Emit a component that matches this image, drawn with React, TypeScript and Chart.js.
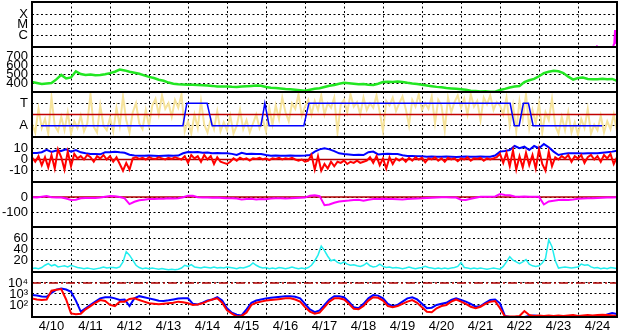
import React, { useEffect, useRef } from 'react';
import { Chart, registerables } from 'chart.js';

Chart.register(...registerables);

// ---------------- axis labels ----------------
const dayLabels = ['4/10', '4/11', '4/12', '4/13', '4/14', '4/15', '4/16', '4/17', '4/18', '4/19', '4/20', '4/21', '4/22', '4/23', '4/24'];
const dayLabelPositions = [0.5, 1.5, 2.5, 3.5, 4.5, 5.5, 6.5, 7.5, 8.5, 9.5, 10.5, 11.5, 12.5, 13.5, 14.5];

const xrayTicks = [1e-6, 1e-5, 1e-4];
const xrayTickLabels = ['C', 'M', 'X'];
const speedTicks = [400, 500, 600, 700];
const speedTickLabels = ['400', '500', '600', '700'];
const sectorTicks = [1, 3];
const sectorTickLabels = ['A', 'T'];
const imfTicks = [-10, 0, 10];
const imfTickLabels = ['-10', '0', '10'];
const dstTicks = [-100, 0];
const dstTickLabels = ['-100', '0'];
const pressureTicks = [20, 40, 60];
const pressureTickLabels = ['20', '40', '60'];
const fluxTicks = [100, 1000, 10000];
const fluxTickLabels = ['10²', '10³', '10⁴'];

// ---------------- data (x in days from 4/10 00:00) ----------------
const STEP3 = 0.125; // 3-hour samples
const STEP2 = 1 / 12; // 2-hour samples

const xrayDays = [14.47, 14.5, 14.7, 14.9, 14.93, 14.95, 14.97, 15.0];
const xrayFlux = [9e-8, 9e-8, null, 9e-8, 1.5e-7, 3e-6, 2e-7, 2.5e-7];

const speedVals = [410, 400, 390, 395, 400, 440, 490, 450, 462, 530,
  500, 490, 495, 485, 488, 498, 510, 525, 550, 540,
  525, 515, 502, 485, 468, 455, 437, 425, 405, 392,
  385, 383, 380, 381, 378, 376, 372, 368, 362, 360,
  362, 358, 356, 362, 365, 368, 372, 370, 355, 348,
  345, 340, 333, 330, 325, 320, 315, 325, 335, 341,
  355, 370, 378, 392, 403, 398, 392, 385, 388, 380,
  378, 392, 410, 415, 410, 416, 412, 402, 395, 390,
  380, 372, 365, 357, 352, 345, 340, 335, 330, 325,
  315, 311, 305, 308, 302, 304, 322, 335, 350, 360,
  367, 410, 430, 445, 475, 510, 525, 537, 530, 510,
  470, 438, 455, 460, 445, 441, 443, 446, 442, 445,
  425];

const imfDirVals = [1.2, 0.4, 2.5, 0.8, 1.6, 0.3, 3.5, 1.0, 0.5, 1.8, 0.6, 2.2, 0.3, 1.4,
  0.8, 1.9, 0.5, 1.2, 3.8, 0.9, 0.4, 2.8, 1.0, 0.6, 1.7, 0.5,
  2.6, 1.0, 3.6, 1.5, 0.4, 2.2, 3.0, 1.2, 0.7, 2.4, 1.0,
  2.8, 3.4, 2.0, 3.7, 2.5, 3.0, 1.8, 3.3, 2.6, 3.8,
  0.5, 1.4, 0.3, 2.0, 0.8, 3.2, 1.1, 0.4, 1.6, 0.7, 2.3, 0.5,
  1.3, 0.6, 1.9, 0.3, 1.0, 2.4, 0.7, 1.5, 0.4, 1.2, 2.0, 0.8, 1.6, 0.5, 2.6, 1.1,
  2.8, 1.6, 3.5, 2.2, 1.4, 3.0, 2.5, 3.8, 1.9, 2.7, 3.3, 2.0,
  3.2, 2.4, 3.7, 2.0, 3.0, 2.6, 3.5, 0.4, 2.9, 3.3, 2.2, 3.8, 2.7, 3.1, 2.0, 3.5, 2.4,
  3.0, 2.6, 3.7, 2.2, 0.5, 3.2, 2.8, 3.5, 2.3, 3.0, 3.6, 2.5, 1.0, 3.3, 2.7, 3.8, 2.4,
  3.0, 2.5, 3.6, 1.2, 3.3, 2.8, 0.6, 3.5, 2.2, 3.1, 3.7, 2.6, 3.4, 2.0, 3.8, 2.7, 3.2,
  1.5, 3.5, 2.9, 3.7, 2.4, 3.1, 2.8,
  2.0, 3.5, 1.0, 2.8, 0.5, 3.2, 1.6, 3.8, 0.8, 2.4, 1.2, 3.0, 0.4, 2.2, 1.5, 3.4,
  1.0, 0.3, 1.8, 0.6, 2.2, 0.4, 1.3, 0.2, 1.6, 0.8, 2.5, 0.3, 1.1, 0.6, 1.9, 0.4, 1.4, 0.7, 2.0, 0.5];

const sectorDays = [0.23, 3.87, 3.97, 4.49, 4.62, 5.87, 5.97, 6.08, 6.97, 7.1, 12.26, 12.37, 12.49, 12.6, 12.73, 12.85, 14.62];
const sectorVals = [1, 1, 3, 3, 1, 1, 3, 1, 1, 3, 3, 1, 1, 3, 3, 1, 1];

const refDays = [0, 15];
const sectorBoundary = [2, 2];
const imfZero = [0, 0];
const dstZero = [0, 0];
const fluxThreshold = [10000, 10000];

const btVals = [5.8, 5.8, 6.5, 8.5, 6.7, 8.0, 7.6, 9.0, 7.0, 8.4,
  6.4, 5.5, 4.9, 4.8, 4.6, 6.4, 6.5, 6.9, 6.4, 6.0,
  4.2, 3.5, 3.4, 3.3, 3.5, 3.4, 3.2, 3.4, 3.5, 3.3,
  3.5, 5.5, 6.7, 6.5, 6.7, 6.0, 6.2, 5.5, 5.8, 5.5,
  5.6, 5.0, 4.0, 6.0, 4.9, 5.0, 4.8, 4.9, 4.0, 3.4,
  3.5, 3.3, 3.4, 3.6, 3.4, 3.3, 3.5, 4.0, 7.0, 9.0,
  10.0, 9.0, 7.5, 5.5, 4.9, 4.5, 4.0, 4.2, 4.0, 6.5,
  7.0, 4.5, 4.9, 5.0, 4.8, 4.9, 3.8, 3.1, 3.2, 3.0,
  2.8, 2.5, 2.6, 2.4, 2.5, 2.7, 2.5, 2.3, 2.5, 2.6,
  2.4, 2.5, 2.7, 2.5, 2.4, 3.5, 7.0, 7.5, 8.4, 12.0,
  10.0, 11.4, 8.4, 12.0, 10.0, 13.8, 10.8, 7.0, 4.0, 5.0,
  5.5, 5.6, 5.5, 5.4, 5.5, 5.6, 5.5, 6.0, 6.5, 7.0,
  7.8];

const bzVals = [2, -2, 3, -5, 2, -7, 4, -8, 9, 2,
  -9, 7, -6, 5, 1, 3, 0, 4, 2, -2,
  3, 1, 4, 0, 3, -2, 2, -4, -10, -3,
  -9, 1, 2, 0.5, 1.5, 0, 2, 1, 0.5, 2,
  1, 0, 1.5, 0.5, 2, 1, 0, 3, -3, 4,
  1, 3, -2, 4, 0, 3, -4, 2, -2, -3,
  -4, -2, 1, -1, 1.5, 0, 1, -1, 1, 0.5,
  1.5, 0, 1, -0.5, 1, 0.5, 1.5, 0, 1, 0.5,
  1.5, 0, -1, 0, -2, -1, 4, -9, 3, -10,
  -4, -8, -2, -6, -2, -3, -1, -4, -2, -3,
  -1, -3, -2, -1, 2, -3, 3, -5, 1, -8,
  2, -4, 1, -1, 1, -2, 1.5, -1, 2, 0,
  1.5, -2.5, 1, 0, 2, -1, 1, -2, 1.5, 0,
  1, -1.5, 1, 0, 2, -1, 1, 0.5, 1.5, -1,
  1, 0, 1, 2, 5, -3, 6, -6, 8, -9,
  3, -7, 6, -5, 4, -8, 9, -4, -10, 7,
  -6, 2, 0, 3, 1, 4, -2, 3, 1, 4,
  -3, 2, 4, 0, 3, -2, 4, 1, 5, -4,
  2];

const dstVals = [-2, -3, 2, 7, -2, -4, -3, -10, -20, -18,
  -8, -7, -6, -7, -4, 2, 7, 5, 0, -9,
  -47, -32, -22, -18, -14, -13, -12, -11, -9, -10,
  -8, -2, 9, 8, -2, -4, -3, -5, -4, -6,
  -8, -9, -10, -16, -14, -12, -16, -13, -15, -10,
  -9, -8, -10, -9, -7, -5, -4, 8, 11, 6,
  -55, -50, -38, -30, -27, -24, -20, -19, -25, -18,
  -14, -13, -12, -13, -14, -15, -16, -14, -12, -10,
  -9, -7, -5, -3, -2, -2, -3, -4, -18, -20,
  -12, -5, 2, 1, 2, 4, 20, 13, 12, 3,
  2, 3, 1, 2, 1, -50, -30, -25, -20, -18,
  -20, -17, -12, -10, -9, -8, -6, -5, -4, -3,
  -2];

const pressureVals = [6, 7, 6, 8, 12, 15, 11, 13, 9, 10,
  11, 9, 12, 10, 8, 7, 6, 7, 6, 5,
  6, 7, 9, 7, 8, 8, 7, 9, 18, 36,
  30, 21, 12, 8, 6, 7, 6, 7, 6, 5,
  6, 5, 4, 5, 4, 5, 7, 12, 10, 13,
  9, 8, 7, 9, 8, 7, 9, 7, 8, 7,
  9, 8, 7, 6, 8, 7, 9, 11, 16, 12,
  9, 7, 8, 6, 7, 6, 8, 7, 6, 7,
  9, 7, 6, 7, 6, 8, 12, 20, 30, 46,
  38, 28, 20, 22, 17, 15, 18, 14, 12, 13,
  11, 10, 12, 16, 11, 9, 10, 14, 10, 8,
  9, 7, 8, 7, 6, 7, 9, 7, 6, 7,
  8, 10, 8, 7, 6, 7, 6, 7, 6, 7,
  8, 10, 17, 8, 7, 6, 7, 6, 7, 6,
  5, 6, 7, 6, 5, 10, 18, 27, 21, 18,
  15, 18, 22, 14, 11, 10, 11, 16, 24, 57,
  45, 20, 7, 8, 9, 8, 7, 8, 9, 14,
  12, 13, 9, 7, 8, 6, 7, 6, 8, 7,
  6];

const electronBlue = [794, 708, 603, 562, 1259, 2512, 3162, 2512, 1600, 250,
  25, 50, 100, 200, 398, 501, 501, 398, 282, 316,
  79, 398, 631, 501, 398, 316, 240, 229, 263, 316,
  380, 398, 398, 126, 112, 158, 251, 316, 501, 251,
  50, 20, 13, 11, 40, 158, 251, 316, 398, 447,
  501, 562, 631, 631, 562, 398, 126, 40, 22, 32,
  100, 316, 631, 631, 501, 200, 63, 50, 126, 398,
  794, 708, 398, 126, 79, 100, 200, 398, 501, 316,
  126, 50, 56, 100, 126, 158, 282, 398, 282, 200,
  126, 69, 79, 158, 282, 316, 141, 10, 8, 8,
  8, 8, 10, 11, 10, 9, 8, 8, 8, 8,
  8, 8, 8, 8, 8, 8, 8, 9, 14, 18,
  15];

const electronRed = [398, 316, 282, 316, 2000, 2400, 2818, 316, 17, 14,
  16, 40, 79, 158, 282, 229, 100, 79, 200, 200,
  355, 398, 282, 200, 141, 126, 115, 126, 141, 158,
  200, 178, 141, 100, 112, 141, 224, 316, 398, 158,
  32, 16, 9, 10, 20, 100, 158, 200, 251, 282,
  316, 355, 398, 398, 316, 200, 63, 25, 16, 20,
  63, 200, 398, 398, 316, 126, 45, 40, 79, 251,
  501, 447, 251, 79, 63, 79, 126, 200, 282, 158,
  63, 24, 22, 50, 79, 100, 200, 316, 200, 126,
  69, 50, 69, 126, 200, 224, 50, 9, 9, 9,
  10, 28, 12, 10, 11, 10, 11, 10, 11, 10,
  11, 12, 10, 11, 12, 11, 12, 13, 12, 11,
  10];

// ---------------- helpers ----------------
const FONT = { family: "'Liberation Sans Narrow', 'Liberation Sans', Arial, sans-serif", size: 13 };
const DOT = [2, 2.5];
const PANELS = ['yX', 'ySpd', 'ySec', 'yB', 'yDst', 'yP', 'yE'];

const even = (vals: (number | null)[], step: number) => vals.map((y, i) => ({ x: i * step, y }));
const pairs = (xs: number[], ys: (number | null)[]) => ys.map((y, i) => ({ x: xs[i], y }));

function line(data: any[], yAxisID: string, color: string, width: number, order: number, extra: any = {}) {
  return {
    type: 'line', data, yAxisID, xAxisID: 'x', borderColor: color, backgroundColor: color,
    borderWidth: width, pointRadius: 0, tension: 0, fill: false, spanGaps: false, order, ...extra,
  };
}

function panelScale(type: string, weight: number, min: number, max: number, tickValues: number[], tickLabels: string[]) {
  return {
    type, position: 'left', stack: 'panels', stackWeight: 1, weight, min, max,
    afterBuildTicks: (s: any) => { s.ticks = tickValues.map((v) => ({ value: v })); },
    afterFit: (s: any) => { s.width = 32; s.paddingTop = 0; s.paddingBottom = 0; },
    ticks: { autoSkip: false, padding: 4, color: '#000', font: FONT, callback: (_v: any, i: number) => tickLabels[i] },
    grid: { color: '#000', lineWidth: 1, drawTicks: false },
    border: { display: false, dash: DOT },
  };
}

const framePlugin = {
  id: 'panelFrame',
  afterDatasetsDraw(chart: any) {
    const { ctx, chartArea } = chart;
    ctx.save();
    ctx.strokeStyle = '#000';
    ctx.lineWidth = 2;
    PANELS.slice(0, -1).forEach((id) => {
      const s = chart.scales[id];
      ctx.beginPath();
      ctx.moveTo(chartArea.left, s.bottom);
      ctx.lineTo(chartArea.right, s.bottom);
      ctx.stroke();
    });
    ctx.strokeRect(chartArea.left, chartArea.top, chartArea.right - chartArea.left, chartArea.bottom - chartArea.top);
    ctx.restore();
  },
};

export default function App() {
  const ref = useRef<HTMLCanvasElement | null>(null);

  useEffect(() => {
    document.body.style.margin = '0';
    if (!ref.current) return;
    const datasets: any[] = [
      line(pairs(xrayDays, xrayFlux), 'yX', '#ff00ff', 2, 1),
      line(even(speedVals, STEP3), 'ySpd', '#22e622', 2.5, 1),
      line(even(imfDirVals, STEP2), 'ySec', '#f6e39b', 2, 10),
      line(pairs(refDays, sectorBoundary), 'ySec', '#c00000', 1.5, 9),
      line(pairs(sectorDays, sectorVals), 'ySec', '#0000ff', 1.5, 8),
      line(pairs(refDays, imfZero), 'yB', '#b00000', 1.5, 9),
      line(even(btVals, STEP3), 'yB', '#0000ff', 2, 8),
      line(even(bzVals, STEP2), 'yB', '#ff0000', 2, 7),
      line(pairs(refDays, dstZero), 'yDst', '#b00000', 1.5, 9),
      line(even(dstVals, STEP3), 'yDst', '#ff00ff', 2, 8),
      line(even(pressureVals, STEP2), 'yP', '#22eeee', 1.5, 8),
      line(pairs(refDays, fluxThreshold), 'yE', '#b00000', 1.5, 9, { borderDash: [9, 3, 2, 3] }),
      line(even(electronBlue, STEP3), 'yE', '#0000ff', 2, 8),
      line(even(electronRed, STEP3), 'yE', '#ff0000', 2, 7),
    ];

    const chart = new Chart(ref.current, {
      type: 'line',
      data: { datasets },
      options: {
        animation: false,
        responsive: false,
        devicePixelRatio: 1,
        events: [],
        layout: { padding: { top: 2, right: 11, bottom: 0, left: 0 } },
        plugins: { legend: { display: false }, tooltip: { enabled: false } },
        scales: {
          x: {
            type: 'linear', position: 'bottom', min: 0, max: 15,
            afterBuildTicks: (s: any) => { s.ticks = dayLabelPositions.map((v) => ({ value: v })); },
            afterFit: (s: any) => { s.height = 17; s.paddingLeft = 0; s.paddingRight = 0; },
            ticks: { autoSkip: false, maxRotation: 0, padding: 2, color: '#000', font: FONT, callback: (_v: any, i: number) => dayLabels[i] },
            grid: { offset: true, color: '#000', lineWidth: 1, drawTicks: false },
            border: { display: false, dash: DOT },
          },
          yX: panelScale('logarithmic', 7, 7.2e-8, 1.4e-3, xrayTicks, xrayTickLabels),
          ySpd: panelScale('linear', 6, 300, 800, speedTicks, speedTickLabels),
          ySec: panelScale('linear', 5, 0, 4, sectorTicks, sectorTickLabels),
          yB: panelScale('linear', 4, -20, 20, imfTicks, imfTickLabels),
          yDst: panelScale('linear', 3, -200, 100, dstTicks, dstTickLabels),
          yP: panelScale('linear', 2, 0, 80, pressureTicks, pressureTickLabels),
          yE: panelScale('logarithmic', 1, 8, 100000, fluxTicks, fluxTickLabels),
        } as any,
      },
      plugins: [framePlugin],
    } as any);
    return () => chart.destroy();
  }, []);

  return (
    <div style={{ width: 628, height: 334, background: '#fff' }}>
      <canvas ref={ref} width={628} height={334} style={{ display: 'block' }} />
    </div>
  );
}
